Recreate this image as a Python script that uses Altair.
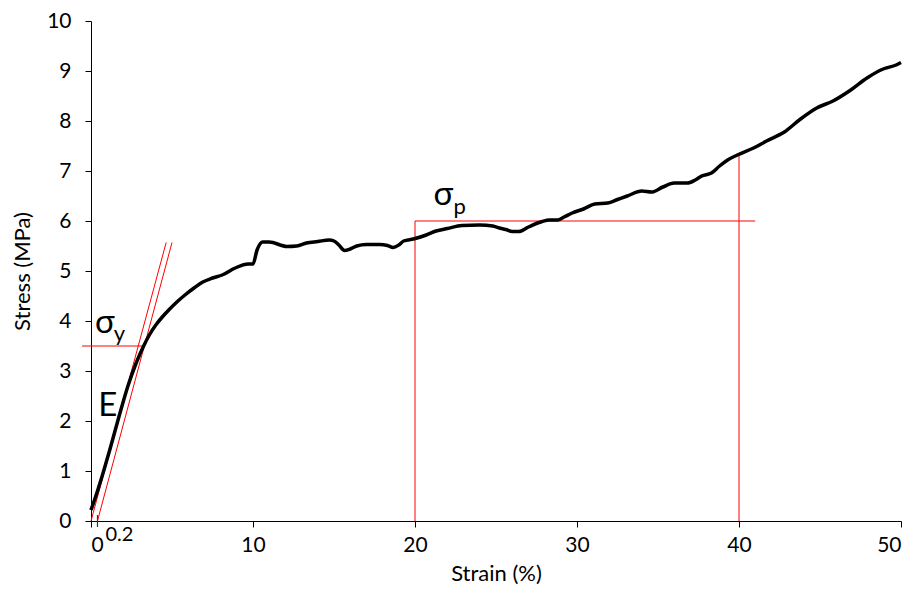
import altair as alt
import pandas as pd

# Stress-strain curve
strain = [0, 0.3, 0.8, 1.2, 1.72, 2.3, 2.8, 3.25, 3.6, 4.0, 4.4, 4.8, 5.3, 5.8, 6.4, 6.9,
          7.5, 8.1, 8.9, 9.7, 10.0, 10.25, 10.6, 11.0, 12.1, 12.7, 13.3, 14.0, 14.7, 15.0,
          15.3, 15.65, 16.0, 16.4, 17.0, 17.8, 18.3, 18.65, 19.0, 19.3, 19.9, 20.7, 21.3,
          22.0, 22.9, 24.0, 24.8, 25.2, 25.6, 26.0, 26.4, 27.0, 27.85, 28.3, 28.8, 29.2,
          29.7, 30.4, 31.1, 31.9, 32.5, 33.1, 34.0, 34.6, 35.3, 36.0, 36.8, 37.3, 37.7,
          38.3, 38.8, 39.3, 39.9, 40.9, 41.7, 42.8, 43.8, 44.8, 45.8, 46.9, 47.9, 48.9,
          49.7, 50.0]
stress = [0.22, 0.5, 1.02, 1.47, 2.08, 2.72, 3.17, 3.5, 3.72, 3.92, 4.08, 4.22, 4.38, 4.52,
          4.67, 4.78, 4.86, 4.92, 5.06, 5.14, 5.14, 5.42, 5.58, 5.58, 5.49, 5.5, 5.56, 5.59,
          5.62, 5.6, 5.52, 5.41, 5.44, 5.5, 5.53, 5.53, 5.51, 5.47, 5.52, 5.6, 5.64, 5.72,
          5.8, 5.85, 5.91, 5.92, 5.9, 5.86, 5.83, 5.79, 5.79, 5.88, 5.99, 6.02, 6.02, 6.08,
          6.16, 6.24, 6.34, 6.36, 6.43, 6.5, 6.6, 6.58, 6.68, 6.76, 6.76, 6.82, 6.9, 6.96,
          7.1, 7.22, 7.32, 7.46, 7.6, 7.78, 8.04, 8.26, 8.4, 8.62, 8.86, 9.04, 9.12, 9.17]

# Red construction lines (segments)
seg_x1 = [0.0, 0.4, -0.55, 20.0, 20.0, 40.0]
seg_y1 = [0.0, 0.0, 3.5, 0.0, 6.0, 0.0]
seg_x2 = [4.64, 5.0, 3.3, 20.0, 41.0, 40.0]
seg_y2 = [5.57, 5.57, 3.5, 6.0, 6.0, 7.3]

# Annotations
big_text = ["σ", "E", "σ"]
big_x = [0.85, 1.04, 21.75]
big_y = [3.96, 2.3, 6.52]
sub_text = ["y", "p"]
sub_x = [1.75, 22.75]
sub_y = [3.74, 6.28]

FONT = "Lato"

curve = pd.DataFrame({"strain": strain, "stress": stress})
segs = pd.DataFrame({"x": seg_x1, "y": seg_y1, "x2": seg_x2, "y2": seg_y2})
bigs = pd.DataFrame({"t": big_text, "x": big_x, "y": big_y})
subs = pd.DataFrame({"t": sub_text, "x": sub_x, "y": sub_y})
offs = pd.DataFrame({"x": [0.4], "y": [-0.12], "y2": [0.12]})
offlabel = pd.DataFrame({"t": ["0.2"], "x": [1.75], "y": [-0.28]})

xs = alt.Scale(domain=[0, 50], nice=False, zero=False)
ys = alt.Scale(domain=[0, 10], nice=False, zero=False)

line = alt.Chart(curve).mark_line(color="black", strokeWidth=3.5, interpolate="monotone").encode(
    x=alt.X("strain:Q", scale=xs, title="Strain (%)",
            axis=alt.Axis(values=[0, 10, 20, 30, 40, 50], labelPadding=7, titlePadding=8)),
    y=alt.Y("stress:Q", scale=ys, title="Stress (MPa)",
            axis=alt.Axis(values=list(range(11)), labelPadding=14, titlePadding=12)),
)

red = alt.Chart(segs).mark_rule(color="#ff0000", strokeWidth=1).encode(
    x="x:Q", y="y:Q", x2="x2:Q", y2="y2:Q")

offtick = alt.Chart(offs).mark_rule(color="#333333", strokeWidth=1.2).encode(
    x="x:Q", y="y:Q", y2="y2:Q")

big = alt.Chart(bigs).mark_text(font=FONT, fontSize=33, color="black", baseline="middle",
                                align="center").encode(x="x:Q", y="y:Q", text="t:N")
sub = alt.Chart(subs).mark_text(font=FONT, fontSize=22, color="black", baseline="middle",
                                align="center").encode(x="x:Q", y="y:Q", text="t:N")
offtxt = alt.Chart(offlabel).mark_text(font=FONT, fontSize=20, color="black", baseline="middle",
                                       align="center").encode(x="x:Q", y="y:Q", text="t:N")

chart = alt.layer(red, offtick, line, big, sub, offtxt).properties(
    width=810, height=500,
    autosize=alt.AutoSizeParams(type="none"),
    padding={"left": 83, "top": 13, "right": 12, "bottom": 67},
).configure_view(stroke=None).configure_axis(
    grid=False, domainColor="black", tickColor="black", tickSize=6,
    labelFont=FONT, labelFontSize=21, labelColor="black",
    titleFont=FONT, titleFontSize=22, titleFontWeight="normal", titleColor="black",
)

chart.save("out.html", embed_options={"renderer": "svg", "actions": False})
